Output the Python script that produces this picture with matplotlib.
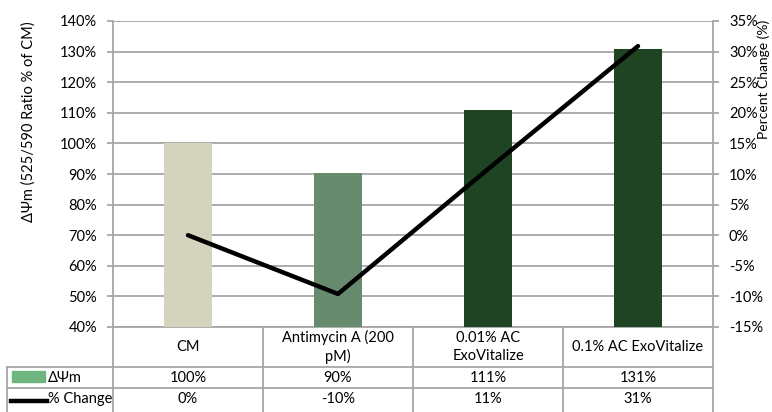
import numpy as np
import matplotlib.pyplot as plt
from matplotlib.lines import Line2D
from matplotlib.patches import Rectangle

categories = ['CM', 'Antimycin A (200\npM)', '0.01% AC\nExoVitalize', '0.1% AC ExoVitalize']
ratio = [100.0, 90.3, 110.9, 130.8]            # % of CM
pct_change = [0.0, -9.6, 10.8, 30.9]           # % change
ratio_labels = ['100%', '90%', '111%', '131%']
change_labels = ['0%', '-10%', '11%', '31%']
bar_colors = ['#d3d3be', '#678b6f', '#1f4424', '#1f4424']

plt.rcParams['font.family'] = ['Lato', 'DejaVu Sans']
plt.rcParams['font.size'] = 10.5
grid_c = '#a6a6a6'

fig = plt.figure(figsize=(7.72, 4.12), dpi=100)
W, H = 772, 412
L, R, T, B = 113, 713, 21, 327
ax = fig.add_axes([L / W, 1 - B / H, (R - L) / W, (B - T) / H])

x = np.arange(len(categories))
ax.bar(x, ratio, width=0.32, color=bar_colors, zorder=3)
ax.set_xlim(-0.5, 3.5)
ax.set_ylim(40, 140)
ax.set_yticks(np.arange(40, 141, 10))
ax.set_yticklabels([f'{v}%' for v in range(40, 141, 10)])
ax.set_xticks([])
ax.grid(axis='y', color=grid_c, linewidth=1.3, zorder=0)
for s in ['top', 'right']:
    ax.spines[s].set_visible(False)
ax.spines['left'].set_color(grid_c)
ax.spines['left'].set_linewidth(1.3)
ax.spines['bottom'].set_color(grid_c)
ax.spines['bottom'].set_linewidth(1.3)
ax.tick_params(axis='y', length=4.5, color=grid_c, width=1.3, pad=7)
ax.set_ylabel('ΔΨm (525/590 Ratio % of CM)', fontsize=10.5)
ax.yaxis.set_label_coords(-0.128, 0.67)

ax2 = ax.twinx()
ax2.plot(x, pct_change, color='black', linewidth=3.2, solid_capstyle='round', zorder=4)
ax2.set_ylim(-15, 35)
ax2.set_yticks(np.arange(-15, 36, 5))
ax2.set_yticklabels([f'{v}%' for v in range(-15, 36, 5)])
for s in ['top', 'left', 'bottom']:
    ax2.spines[s].set_visible(False)
ax2.spines['right'].set_color(grid_c)
ax2.spines['right'].set_linewidth(1.3)
ax2.tick_params(axis='y', length=4.5, color=grid_c, width=1.3, pad=7)
ax2.set_ylabel('Percent Change (%)', fontsize=10)
ax2.yaxis.set_label_coords(1.074, 0.81)

# data table below the axes (figure pixel coordinates)
def fx(px):
    return px / W

def fy(py):
    return 1 - py / H

def hline(x0, x1, y):
    fig.add_artist(Line2D([fx(x0), fx(x1)], [fy(y), fy(y)], color=grid_c, lw=1.3))

def vline(xp, y0, y1):
    fig.add_artist(Line2D([fx(xp), fx(xp)], [fy(y0), fy(y1)], color=grid_c, lw=1.3))

r1, r2, r3 = 367, 388, 412
hline(7, R, r1)
hline(7, R, r2)
vline(7, r1, r3)
vline(R, B, r3)
col_w = (R - L) / len(categories)
for i in range(len(categories)):
    vline(L + i * col_w, B, r3)
    cx = L + (i + 0.5) * col_w
    fig.text(fx(cx), fy((B + r1) / 2), categories[i], ha='center', va='center',
             linespacing=1.4)
    fig.text(fx(cx), fy((r1 + r2) / 2), ratio_labels[i], ha='center', va='center')
    fig.text(fx(cx), fy((r2 + r3) / 2 - 1), change_labels[i], ha='center', va='center')

fig.add_artist(Rectangle((fx(12), fy(382)), fx(45) - fx(12), fy(371) - fy(382),
                         color='#6fb57f'))
fig.text(fx(48), fy((r1 + r2) / 2), 'ΔΨm', ha='left', va='center')
fig.add_artist(Line2D([fx(11), fx(47)], [fy(401), fy(401)], color='black', lw=3.2))
fig.text(fx(48), fy((r2 + r3) / 2 - 1), '% Change', ha='left', va='center')

fig.savefig('out.png', dpi=100)
